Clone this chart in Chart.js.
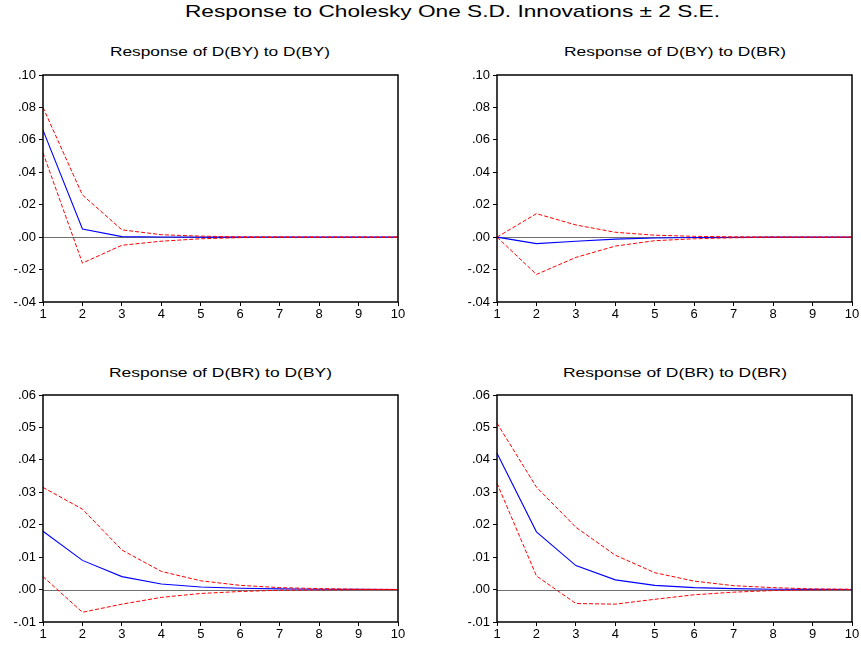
<!DOCTYPE html>
<html>
<head>
<meta charset="utf-8">
<script src="https://cdn.jsdelivr.net/npm/chart.js@4"></script>
<style>
  html, body { margin: 0; padding: 0; background: #fff; overflow: hidden; }
  body { width: 861px; height: 647px; position: relative; font-family: "Liberation Sans", Arial, sans-serif; }
  .box { position: absolute; }
  .ttl { position: absolute; white-space: nowrap; color: #000; transform-origin: left top; }
</style>
</head>
<body>
<div class="ttl" data-x="185" data-w="535" style="top:2px;font-size:17px;">Response to Cholesky One S.D. Innovations ± 2 S.E.</div>
<div class="ttl" data-x="110" data-w="220" style="top:44px;font-size:13px;">Response of D(BY) to D(BY)</div>
<div class="ttl" data-x="564" data-w="222" style="top:44px;font-size:13px;">Response of D(BY) to D(BR)</div>
<div class="ttl" data-x="109" data-w="223" style="top:365px;font-size:13px;">Response of D(BR) to D(BY)</div>
<div class="ttl" data-x="563" data-w="224" style="top:365px;font-size:13px;">Response of D(BR) to D(BR)</div>

<div class="box" style="left:0;top:40px;width:430px;height:300px;"><canvas id="c1"></canvas></div>
<div class="box" style="left:454px;top:40px;width:407px;height:300px;"><canvas id="c2"></canvas></div>
<div class="box" style="left:0;top:360px;width:430px;height:300px;"><canvas id="c3"></canvas></div>
<div class="box" style="left:454px;top:360px;width:407px;height:300px;"><canvas id="c4"></canvas></div>

<script>
const periods = ["1", "2", "3", "4", "5", "6", "7", "8", "9", "10"];

// Response of D(BY) to D(BY)
const byByResp  = [0.066, 0.005, 0.0003, 0.0001, 0.0000, 0.0000, 0.0000, 0.0000, 0.0000, 0.0000];
const byByUpper = [0.080, 0.026, 0.0045, 0.0015, 0.0006, 0.0002, 0.0001, 0.0000, 0.0000, 0.0000];
const byByLower = [0.052, -0.016, -0.005, -0.0025, -0.001, -0.0003, -0.0001, 0.0000, 0.0000, 0.0000];

// Response of D(BY) to D(BR)
const byBrResp  = [0.000, -0.004, -0.0025, -0.0012, -0.0005, -0.0002, -0.0001, 0.0000, 0.0000, 0.0000];
const byBrUpper = [0.000, 0.0145, 0.0075, 0.003, 0.0012, 0.0005, 0.0002, 0.0001, 0.0000, 0.0000];
const byBrLower = [0.000, -0.023, -0.0125, -0.0055, -0.0022, -0.001, -0.0004, -0.0001, 0.0000, 0.0000];

// Response of D(BR) to D(BY)
const brByResp  = [0.018, 0.009, 0.004, 0.0017, 0.0008, 0.0004, 0.0002, 0.0001, 0.00005, 0.0000];
const brByUpper = [0.0315, 0.0248, 0.0122, 0.0056, 0.0027, 0.0013, 0.0006, 0.0003, 0.0001, 0.00005];
const brByLower = [0.004, -0.007, -0.0045, -0.0024, -0.0012, -0.0006, -0.0002, -0.0001, 0.0000, 0.0000];

// Response of D(BR) to D(BR)
const brBrResp  = [0.042, 0.0178, 0.0074, 0.003, 0.0013, 0.0006, 0.0003, 0.0001, 0.00005, 0.0000];
const brBrUpper = [0.0513, 0.0316, 0.0192, 0.0106, 0.0052, 0.0026, 0.0012, 0.0006, 0.0002, 0.0001];
const brBrLower = [0.0328, 0.0042, -0.0043, -0.0045, -0.003, -0.0016, -0.0008, -0.0003, -0.0001, 0.0000];

const topAxis = { min: -0.04, max: 0.10, step: 0.02 };
const bottomAxis = { min: -0.01, max: 0.06, step: 0.01 };

// frame round the plot and the grey zero line
const frameAndZero = {
  id: "frameAndZero",
  beforeDatasetsDraw(chart) {
    const { ctx, chartArea: { left, right }, scales: { y } } = chart;
    const y0 = Math.round(y.getPixelForValue(0)) + 0.5;
    ctx.save();
    ctx.strokeStyle = "#707070";
    ctx.lineWidth = 1.2;
    ctx.beginPath();
    ctx.moveTo(left, y0);
    ctx.lineTo(right, y0);
    ctx.stroke();
    ctx.restore();
  },
  afterDraw(chart) {
    const { ctx, chartArea: { left, top, width, height } } = chart;
    ctx.save();
    ctx.strokeStyle = "#000";
    ctx.lineWidth = 1.5;
    ctx.strokeRect(left, top, width, height);
    ctx.restore();
  },
};

function fmt(v) {
  const s = Math.abs(v) < 1e-9 ? "0.00" : v.toFixed(2);
  return s.replace("0.", ".");
}

function makeChart(id, resp, upper, lower, axis, padRight) {
  const dashed = { borderColor: "#ff0000", borderWidth: 1, borderDash: [4, 2], pointRadius: 0, tension: 0, fill: false };
  return new Chart(document.getElementById(id), {
    type: "line",
    data: {
      labels: periods,
      datasets: [
        { data: upper, ...dashed },
        { data: lower, ...dashed },
        { data: resp, borderColor: "#0000ff", borderWidth: 1.1, pointRadius: 0, tension: 0, fill: false },
      ],
    },
    options: {
      responsive: true,
      maintainAspectRatio: false,
      animation: false,
      layout: { padding: { top: 35, right: padRight, left: 0, bottom: 0 } },
      plugins: { legend: { display: false }, tooltip: { enabled: false } },
      scales: {
        x: {
          offset: false,
          grid: { display: true, drawOnChartArea: false, drawTicks: true, tickLength: 4, tickColor: "#000" },
          border: { display: false },
          ticks: { color: "#000", font: { family: "Liberation Sans", size: 13 }, padding: 1, maxRotation: 0, autoSkip: false },
          afterFit(scale) { scale.height = 38; },
        },
        y: {
          min: axis.min,
          max: axis.max,
          grid: { display: true, drawOnChartArea: false, drawTicks: true, tickLength: 4, tickColor: "#000" },
          border: { display: false },
          ticks: { stepSize: axis.step, color: "#000", font: { family: "Liberation Sans", size: 13 }, padding: 3, callback: (v) => fmt(v) },
          afterFit(scale) { scale.width = 43; },
        },
      },
    },
    plugins: [frameAndZero],
  });
}

makeChart("c1", byByResp, byByUpper, byByLower, topAxis, 32);
makeChart("c2", byBrResp, byBrUpper, byBrLower, topAxis, 9);
makeChart("c3", brByResp, brByUpper, brByLower, bottomAxis, 32);
makeChart("c4", brBrResp, brBrUpper, brBrLower, bottomAxis, 9);

// stretch the titles to the width they take in the picture
document.querySelectorAll(".ttl").forEach((el) => {
  const w = el.getBoundingClientRect().width;
  const target = Number(el.dataset.w);
  el.style.left = el.dataset.x + "px";
  el.style.transform = "scaleX(" + (target / w) + ")";
});
</script>
</body>
</html>
